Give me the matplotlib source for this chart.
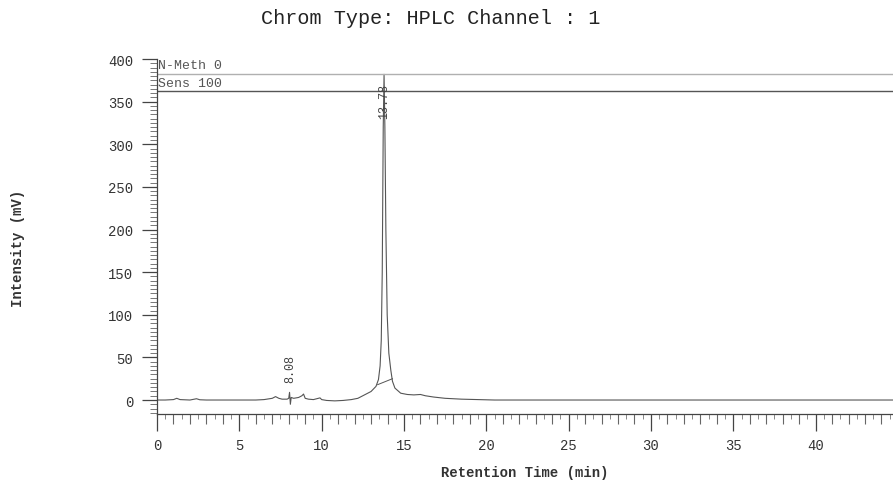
import numpy as np
import matplotlib
matplotlib.use("Agg")
import matplotlib.pyplot as plt
from matplotlib.ticker import MultipleLocator

# detector trace, retention time (min) vs intensity (mV)
rt = [0.0, 0.5, 1.0, 1.2, 1.4, 2.0, 2.4, 2.6, 3.0, 4.0, 5.0, 6.0, 6.5,
      7.0, 7.2, 7.4, 7.6, 7.9, 8.0, 8.05, 8.1, 8.15, 8.3, 8.6, 8.8, 8.9,
      9.0, 9.2, 9.5, 9.8, 9.9, 10.0, 10.3, 10.8, 11.3, 11.8, 12.2, 12.6,
      13.0, 13.3, 13.45, 13.55, 13.62, 13.68, 13.74, 13.79, 13.84, 13.9,
      13.98, 14.08, 14.2, 14.3, 14.45, 14.8, 15.2, 15.6, 16.0, 16.3, 16.8,
      17.5, 18.5, 19.5, 20.5, 22.0, 25.0, 30.0, 35.0, 40.0, 45.0]
signal = [0.0, 0.0, 0.5, 2.0, 0.5, 0.0, 1.5, 0.3, 0.0, 0.0, 0.0, 0.0, 0.5,
          2.0, 4.0, 2.0, 1.0, 1.0, 2.0, 9.0, -5.0, 3.0, 2.0, 3.0, 5.0, 7.0,
          2.0, 1.0, 0.5, 2.0, 2.5, 0.5, -0.5, -1.0, -0.5, 0.5, 2.0, 6.0,
          10.0, 16.0, 24.0, 40.0, 70.0, 150.0, 320.0, 382.0, 320.0, 200.0,
          100.0, 55.0, 35.0, 22.0, 14.0, 8.0, 6.5, 6.0, 6.5, 5.0, 3.5,
          2.0, 1.0, 0.5, 0.0, 0.0, 0.0, 0.0, 0.0, 0.0, 0.0]

# integration baseline under the main peak
base_rt = [13.4, 14.3]
base_mv = [18.0, 25.0]

# labelled peaks
peak_rt = [8.08, 13.78]
peak_label_y = [37, 351]

# method info lines
info_labels = ["N-Meth 0", "Sens 100"]
info_levels = [382, 362]
info_text_y = [393, 372]
info_colors = ["#b0b0b0", "#555555"]

plt.rcParams["font.family"] = ["Liberation Mono", "DejaVu Sans Mono"]

fig = plt.figure(figsize=(8.93, 4.85), dpi=100)
ax = fig.add_axes([157 / 893, 70 / 485, 1 - 157 / 893, 355 / 485])

ax.plot(rt, signal, color="#555555", lw=0.8)
ax.plot(base_rt, base_mv, color="#555555", lw=0.7)

for lab, lev, ty, col in zip(info_labels, info_levels, info_text_y,
                             info_colors):
    ax.axhline(lev, color=col, lw=1.0)
    ax.text(0.05, ty, lab, fontsize=9.5, color="#555555",
            va="center", ha="left")

for t, ly in zip(peak_rt, peak_label_y):
    ax.text(t, ly, f"{t:.2f}", rotation=90, fontsize=8.5, color="#444444",
            ha="center", va="center")

ax.set_xlim(0, 44.7)
ax.set_ylim(-16.4, 400)

for s in ("top", "right"):
    ax.spines[s].set_visible(False)
for s in ("left", "bottom"):
    ax.spines[s].set_color("#444444")
    ax.spines[s].set_linewidth(0.9)

ax.set_xticks(range(0, 45, 5))
ax.set_yticks(range(0, 401, 50))
ax.xaxis.set_minor_locator(MultipleLocator(1))
ax.yaxis.set_minor_locator(MultipleLocator(5))
ax.tick_params(axis="x", which="major", direction="out", length=12,
               width=0.9, color="#444444", labelsize=10, pad=5,
               labelcolor="#333333")
ax.tick_params(axis="y", which="major", direction="out", length=11,
               width=0.9, color="#444444", labelsize=10, pad=6,
               labelcolor="#333333")
ax.tick_params(axis="x", which="minor", direction="out", length=7,
               width=0.8, color="#666666")
ax.tick_params(axis="y", which="minor", direction="out", length=5,
               width=0.7, color="#777777")

# half-minute ticks on the time axis
half = ax.secondary_xaxis("bottom")
half.set_xticks(np.arange(0.5, 45, 1.0))
half.tick_params(direction="out", length=3.5, width=0.7, color="#888888",
                 labelbottom=False)
half.spines["bottom"].set_visible(False)

ax.set_xlabel("Retention Time (min)", fontsize=10, fontweight="bold",
              labelpad=10, color="#333333")
fig.text(18 / 893, 1 - 248 / 485, "Intensity (mV)", rotation=90,
         fontsize=10, fontweight="bold", ha="center", va="center",
         color="#333333")
fig.text(431 / 893, 1 - 19 / 485, "Chrom Type: HPLC Channel : 1",
         fontsize=14.5, ha="center", va="center", color="#222222")

fig.savefig("out.png", dpi=100)
